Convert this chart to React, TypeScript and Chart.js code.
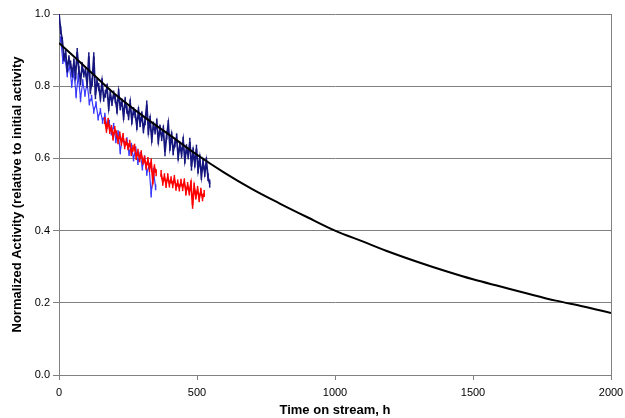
import React, { useEffect, useRef } from "react";
import { Chart, registerables } from "chart.js";

Chart.register(...registerables);

// Model curve (black)
const curveTimes = [0, 100, 200, 300, 400, 500, 600, 700, 800, 900, 1000, 1100, 1200, 1300, 1400, 1500, 1600, 1700, 1800, 1900, 2000];
const curveValues = [0.92, 0.85, 0.78, 0.72, 0.665, 0.61, 0.56, 0.515, 0.475, 0.437, 0.40, 0.37, 0.34, 0.313, 0.288, 0.265, 0.245, 0.225, 0.206, 0.19, 0.172];

// Measured run 1 (navy)
const navyStart = 0;
const navyStep = 6;
const navyValues = [
  1.00, 0.955, 0.925, 0.88, 0.89, 0.85, 0.875, 0.86, 0.835, 0.865,
  0.83, 0.895, 0.845, 0.815, 0.855, 0.835, 0.84, 0.807, 0.883, 0.79,
  0.811, 0.883, 0.775, 0.811, 0.798, 0.769, 0.811, 0.768, 0.779, 0.796,
  0.742, 0.779, 0.756, 0.777, 0.764, 0.735, 0.782, 0.744, 0.755, 0.717,
  0.758, 0.735, 0.717, 0.753, 0.705, 0.731, 0.723, 0.690, 0.731, 0.698,
  0.719, 0.681, 0.703, 0.749, 0.676, 0.707, 0.654, 0.691, 0.677, 0.699,
  0.650, 0.682, 0.659, 0.680, 0.617, 0.663, 0.695, 0.632, 0.663, 0.620,
  0.641, 0.658, 0.605, 0.636, 0.613, 0.649, 0.596, 0.628, 0.609, 0.646,
  0.577, 0.619, 0.586, 0.627, 0.569, 0.600, 0.552, 0.589, 0.560, 0.592,
  0.548, 0.530,
];

// Measured run 2 (blue)
const blueStart = 6;
const blueStep = 8;
const blueValues = [
  0.93, 0.87, 0.875, 0.833, 0.856, 0.804, 0.838, 0.776, 0.829, 0.765,
  0.811, 0.779, 0.807, 0.755, 0.768, 0.732, 0.75, 0.713, 0.731, 0.704,
  0.718, 0.690, 0.699, 0.672, 0.69, 0.650, 0.67, 0.62, 0.655, 0.64,
  0.65, 0.615, 0.635, 0.60, 0.625, 0.59, 0.61, 0.575, 0.60, 0.56,
  0.58, 0.50, 0.565, 0.52,
];

// Measured run 3 (red)
const redStart = 166;
const redStep = 6;
const redValues = [
  0.705, 0.681, 0.702, 0.677, 0.683, 0.659, 0.680, 0.668, 0.649, 0.665,
  0.645, 0.661, 0.635, 0.646, 0.632, 0.642, 0.616, 0.628, 0.631, 0.605,
  0.617, 0.599, 0.613, 0.592, 0.598, 0.578, 0.594, 0.572, 0.589, 0.538,
  0.574, 0.560, null, null,
  0.558, 0.534, 0.549, 0.528, 0.549, 0.529, 0.541, 0.527, 0.544, 0.520,
  0.532, 0.518, 0.534, 0.519, 0.535, 0.507, 0.525, 0.507, 0.530, 0.470,
  0.522, 0.496, 0.514, 0.489, 0.509, 0.491, 0.503,
];

const xTitle = "Time on stream, h";
const yTitle = "Normalized Activity (relative to initial activity";

const toPoints = (start: number, step: number, vals: (number | null)[]) =>
  vals.map((v, i) => ({ x: start + i * step, y: v }));

const rightBorder = {
  id: "rightBorder",
  afterDatasetsDraw(chart: any) {
    const { ctx, chartArea } = chart;
    ctx.save();
    ctx.strokeStyle = "#808080";
    ctx.lineWidth = 1;
    ctx.beginPath();
    ctx.moveTo(Math.round(chartArea.right) + 0.5, chartArea.top);
    ctx.lineTo(Math.round(chartArea.right) + 0.5, chartArea.bottom);
    ctx.stroke();
    ctx.restore();
  },
};

const noisy = (color: string, width: number, r: number) => ({
  borderColor: color,
  backgroundColor: color,
  borderWidth: width,
  pointStyle: "line",
  rotation: 90,
  pointRadius: r,
  pointBorderWidth: 1.5,
  pointBorderColor: color,
});

export default function App() {
  const ref = useRef<HTMLCanvasElement>(null);
  useEffect(() => {
    if (!ref.current) return;
    const font = "Arial, 'Liberation Sans', Helvetica, sans-serif";
    const chart = new Chart(ref.current, {
      type: "line",
      data: {
        datasets: [
          {
            data: curveTimes.map((t, i) => ({ x: t, y: curveValues[i] })),
            borderColor: "#000000",
            borderWidth: 2,
            pointRadius: 0,
            cubicInterpolationMode: "monotone",
          },
          { data: toPoints(redStart, redStep, redValues), spanGaps: false, ...noisy("#ff0000", 1.8, 3.5) },
          { data: toPoints(navyStart, navyStep, navyValues), ...noisy("#16167f", 1.8, 4) },
          { data: toPoints(blueStart, blueStep, blueValues), ...noisy("#3a3aff", 1.2, 3) },
        ],
      },
      options: {
        animation: false,
        responsive: false,
        maintainAspectRatio: false,
        layout: { autoPadding: false, padding: { left: 6, right: 14, top: 14, bottom: 0 } },
        plugins: { legend: { display: false }, tooltip: { enabled: false } },
        scales: {
          x: {
            type: "linear",
            min: 0,
            max: 2000,
            ticks: { stepSize: 500, color: "#000", font: { family: font, size: 11 }, padding: 6, maxRotation: 0, callback: (v: any) => String(v) },
            grid: { drawOnChartArea: false, color: "#808080", tickLength: 5 },
            border: { color: "#808080" },
            title: { display: true, text: xTitle, color: "#000", font: { family: font, size: 13, weight: "bold" }, padding: { top: 0, bottom: 0 } },
            afterFit: (s: any) => { s.height = 43; s.paddingLeft = 0; s.paddingRight = 0; },
          },
          y: {
            min: 0,
            max: 1,
            ticks: { stepSize: 0.2, color: "#000", font: { family: font, size: 11 }, padding: 3, callback: (v: any) => Number(v).toFixed(1) },
            grid: { color: "#808080", tickLength: 6 },
            border: { color: "#808080" },
            title: { display: true, text: yTitle, color: "#000", font: { family: font, size: 13, weight: "bold" }, padding: { top: 4, bottom: 0 } },
            afterFit: (s: any) => { s.width = 53; s.paddingTop = 0; s.paddingBottom = 0; },
          },
        },
      },
      plugins: [rightBorder],
    } as any);
    return () => chart.destroy();
  }, []);
  return (
    <div style={{ position: "fixed", left: 0, top: 0, width: 625, height: 418, background: "#fff" }}>
      <canvas ref={ref} width={625} height={418} style={{ display: "block" }} />
    </div>
  );
}
